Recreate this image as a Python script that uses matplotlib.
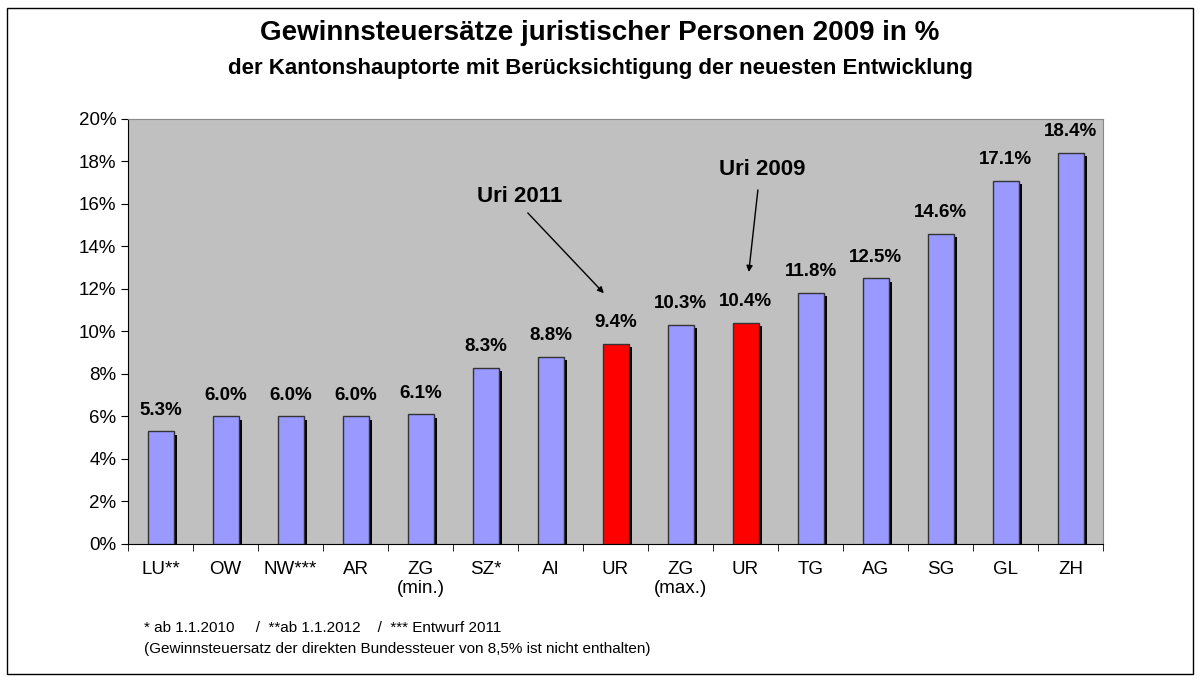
import matplotlib.pyplot as plt
from matplotlib.patches import Rectangle
from matplotlib.ticker import FuncFormatter

plt.rcParams['font.family'] = ['Liberation Sans', 'DejaVu Sans']

# data
cantons = ['LU**', 'OW', 'NW***', 'AR', 'ZG\n(min.)', 'SZ*', 'AI', 'UR',
           'ZG\n(max.)', 'UR', 'TG', 'AG', 'SG', 'GL', 'ZH']
rates = [5.3, 6.0, 6.0, 6.0, 6.1, 8.3, 8.8, 9.4, 10.3, 10.4, 11.8, 12.5, 14.6, 17.1, 18.4]
highlight = [False] * 7 + [True, False, True] + [False] * 5

fig = plt.figure(figsize=(12, 6.81), dpi=100)
ax = fig.add_axes([0.1067, 0.2012, 0.8125, 0.6241])
ax.set_facecolor('#C0C0C0')

x = list(range(len(cantons)))
colors = ['#FF0000' if h else '#9999FF' for h in highlight]

# shadow behind each bar
ax.bar([i + 0.06 for i in x], [r - 0.15 for r in rates], width=0.4,
       color='black', zorder=2)
ax.bar(x, rates, width=0.4, color=colors, edgecolor='#333333',
       linewidth=1, zorder=3)

for i, r in enumerate(rates):
    ax.text(i, r + 0.6, f'{r:.1f}%', ha='center', va='bottom',
            fontsize=13.5, fontweight='bold', zorder=4)

ax.set_xlim(-0.5, len(cantons) - 0.5)
ax.set_ylim(0, 20)
ax.set_yticks(range(0, 21, 2))
ax.yaxis.set_major_formatter(FuncFormatter(lambda v, p: f'{v:.0f}%'))
ax.set_xticks(x)
ax.set_xticklabels(cantons, fontsize=13.5)
ax.set_xticks([i - 0.5 for i in range(len(cantons) + 1)], minor=True)
ax.tick_params(axis='x', which='major', length=0, pad=12)
ax.tick_params(axis='x', which='minor', length=5, direction='out')
ax.tick_params(axis='y', labelsize=13.5, length=5, direction='out')

for s in ['top', 'right']:
    ax.spines[s].set_color('#888888')
for s in ['left', 'bottom']:
    ax.spines[s].set_color('black')

arrow = dict(arrowstyle='-|>', color='black', lw=1, shrinkA=0, shrinkB=0,
             mutation_scale=9)
ax.text(5.53, 16.33, 'Uri 2011', fontsize=16, fontweight='bold',
        ha='center', va='center')
ax.annotate('', xy=(6.82, 11.8), xytext=(5.65, 15.58), arrowprops=arrow)
ax.text(9.25, 17.6, 'Uri 2009', fontsize=16, fontweight='bold',
        ha='center', va='center')
ax.annotate('', xy=(9.05, 12.8), xytext=(9.19, 16.66), arrowprops=arrow)

fig.text(0.5, 0.951, 'Gewinnsteuersätze juristischer Personen 2009 in %',
         ha='center', va='center', fontsize=20, fontweight='bold')
fig.text(0.5, 0.9, 'der Kantonshauptorte mit Berücksichtigung der neuesten Entwicklung',
         ha='center', va='center', fontsize=16, fontweight='bold')

fig.text(0.12, 0.078, '* ab 1.1.2010     /  **ab 1.1.2012    /  *** Entwurf 2011',
         ha='left', va='center', fontsize=11)
fig.text(0.12, 0.047, '(Gewinnsteuersatz der direkten Bundessteuer von 8,5% ist nicht enthalten)',
         ha='left', va='center', fontsize=11)

fig.patches.append(Rectangle((0.006, 0.01), 0.988, 0.978, transform=fig.transFigure,
                             fill=False, edgecolor='black', linewidth=1))

fig.savefig('out.png', dpi=100)
